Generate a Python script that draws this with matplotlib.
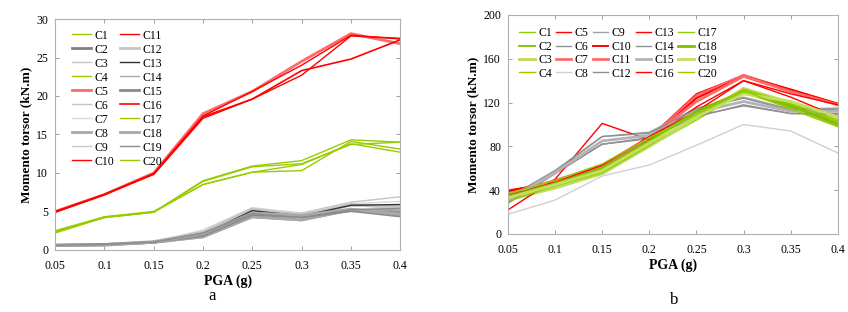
import numpy as np
import matplotlib
matplotlib.use('Agg')
import matplotlib.pyplot as plt

plt.rcParams['font.family'] = ['Liberation Serif', 'DejaVu Serif']

pga = [0.05, 0.1, 0.15, 0.2, 0.25, 0.3, 0.35, 0.4]
x_ticks = ['0.05', '0.1', '0.15', '0.2', '0.25', '0.3', '0.35', '0.4']

GREEN = '#99cc00'
RED = '#ff0000'
LRED = '#ff6a6a'

# ---- panel a ----
a_names = ['C%d' % i for i in range(1, 21)]
a_vals = {
    'C1': [2.5, 4.3, 4.9, 9.0, 10.9, 11.6, 14.3, 14.0],
    'C2': [0.6, 0.7, 1.0, 2.0, 5.2, 4.4, 5.1, 5.0],
    'C3': [0.5, 0.6, 1.0, 2.4, 5.4, 4.8, 6.2, 6.9],
    'C4': [2.4, 4.2, 4.9, 8.9, 10.8, 11.2, 13.7, 14.0],
    'C5': [5.0, 7.2, 10.0, 17.7, 20.6, 24.5, 28.1, 26.8],
    'C6': [0.6, 0.6, 1.1, 1.8, 4.6, 4.1, 5.8, 5.6],
    'C7': [0.5, 0.6, 1.0, 2.6, 5.5, 4.7, 6.0, 6.3],
    'C8': [0.6, 0.7, 1.0, 1.7, 4.3, 3.9, 5.2, 5.2],
    'C9': [0.5, 0.6, 0.9, 2.2, 5.0, 4.6, 5.7, 5.8],
    'C10': [4.9, 7.2, 9.9, 17.4, 20.6, 24.0, 27.9, 27.4],
    'C11': [5.0, 7.2, 9.8, 17.1, 19.6, 22.7, 27.8, 27.5],
    'C12': [0.6, 0.7, 1.1, 2.3, 5.3, 4.5, 5.9, 5.4],
    'C13': [0.6, 0.7, 1.0, 2.0, 5.1, 4.4, 5.8, 5.9],
    'C14': [0.5, 0.6, 0.9, 1.6, 4.2, 3.8, 5.1, 5.1],
    'C15': [0.6, 0.7, 1.0, 1.9, 4.6, 4.3, 5.1, 4.4],
    'C16': [4.9, 7.2, 9.9, 17.3, 19.6, 23.3, 24.8, 27.3],
    'C17': [2.2, 4.2, 4.9, 8.5, 10.1, 10.3, 14.1, 13.1],
    'C18': [0.6, 0.6, 1.0, 2.1, 4.8, 4.5, 5.3, 4.6],
    'C19': [0.6, 0.7, 1.0, 2.2, 4.7, 4.2, 5.2, 5.4],
    'C20': [2.3, 4.3, 5.0, 8.5, 10.1, 11.1, 13.8, 12.7],
}
a_style = {
    'C1': (GREEN, 1.0), 'C2': ('#808080', 2.0), 'C3': ('#c4c4c4', 1.0),
    'C4': (GREEN, 1.0), 'C5': (LRED, 2.0), 'C6': ('#c4c4c4', 1.0),
    'C7': ('#d8d8d8', 1.0), 'C8': ('#a8a8a8', 2.0), 'C9': ('#c8c8c8', 1.0),
    'C10': (RED, 1.0), 'C11': (RED, 1.0), 'C12': ('#c4c4c4', 2.0),
    'C13': ('#303030', 1.0), 'C14': ('#a8a8a8', 1.0), 'C15': ('#8a8a8a', 2.0),
    'C16': (RED, 1.2), 'C17': (GREEN, 1.0), 'C18': ('#a8a8a8', 2.0),
    'C19': ('#8c8c8c', 1.0), 'C20': (GREEN, 1.0),
}

# ---- panel b ----
b_vals = {
    'C1': [32, 43, 55, 80, 104, 130, 118, 103],
    'C2': [35, 48, 63, 87, 111, 131, 116, 99],
    'C3': [31, 42, 55, 80, 106, 133, 120, 106],
    'C4': [36, 47, 62, 86, 110, 129, 115, 100],
    'C5': [40, 47, 62, 88, 128, 145, 132, 119],
    'C6': [28, 55, 82, 88, 107, 118, 110, 109],
    'C7': [37, 48, 61, 87, 126, 145, 131, 118],
    'C8': [18, 31, 53, 63, 81, 100, 94, 74],
    'C9': [30, 57, 89, 93, 115, 125, 114, 115],
    'C10': [39, 48, 60, 86, 124, 144, 132, 119],
    'C11': [36, 49, 62, 88, 121, 144, 130, 118],
    'C12': [29, 56, 82, 87, 108, 117, 110, 110],
    'C13': [22, 50, 101, 86, 116, 140, 125, 107],
    'C14': [33, 58, 89, 92, 114, 124, 113, 114],
    'C15': [31, 56, 85, 90, 111, 121, 112, 112],
    'C16': [35, 47, 63, 89, 112, 140, 128, 118],
    'C17': [30, 44, 56, 81, 108, 132, 119, 104],
    'C18': [34, 46, 60, 85, 112, 130, 117, 101],
    'C19': [33, 45, 58, 83, 107, 128, 121, 107],
    'C20': [37, 49, 64, 88, 109, 131, 114, 98],
}
b_style = {
    'C1': (GREEN, 1.0), 'C2': ('#80c000', 1.3), 'C3': ('#bcdc5a', 2.0),
    'C4': (GREEN, 1.0), 'C5': (RED, 1.0), 'C6': ('#909090', 1.0),
    'C7': (LRED, 2.0), 'C8': ('#d0d0d0', 1.0), 'C9': ('#a0a0a0', 1.0),
    'C10': (RED, 1.4), 'C11': (LRED, 2.0), 'C12': ('#909090', 1.0),
    'C13': (RED, 1.0), 'C14': ('#909090', 1.0), 'C15': ('#b4b4b4', 2.0),
    'C16': (RED, 1.0), 'C17': (GREEN, 1.0), 'C18': ('#80c000', 2.0),
    'C19': ('#c0e060', 2.0), 'C20': (GREEN, 1.0),
}


def style_axes(ax, ymax, ystep):
    ax.set_xlim(0.05, 0.4)
    ax.set_ylim(0, ymax)
    ax.set_xticks(pga)
    ax.set_xticklabels(x_ticks)
    ax.set_yticks(np.arange(0, ymax + 1, ystep))
    ax.tick_params(direction='in', length=3, width=0.6, color='#909090',
                   labelsize=8.5, top=True, right=True)
    ax.tick_params(axis='x', pad=7)
    ax.tick_params(axis='y', pad=5)
    for s in ax.spines.values():
        s.set_color('#b0b0b0')
        s.set_linewidth(0.8)
    ax.set_xlabel('PGA (g)', fontsize=10, fontweight='bold', labelpad=2)
    ax.set_ylabel('Momento torsor (kN.m)', fontsize=9.5, fontweight='bold', labelpad=3)


fig = plt.figure(figsize=(8.48, 3.12), dpi=100)

ax1 = fig.add_axes([0.065, 0.199, 0.407, 0.740])
for n in a_names:
    c, lw = a_style[n]
    ax1.plot(pga, a_vals[n], color=c, lw=lw, label=n)
style_axes(ax1, 30, 5)
ax1.legend(ncol=2, loc='upper left', bbox_to_anchor=(0.035, 0.975), frameon=False,
           fontsize=8.5, handlelength=1.6, handletextpad=0.3, columnspacing=0.5,
           labelspacing=0.17, borderaxespad=0)

ax2 = fig.add_axes([0.599, 0.25, 0.389, 0.702])
for n in a_names:
    c, lw = b_style[n]
    ax2.plot(pga, b_vals[n], color=c, lw=lw, label=n)
style_axes(ax2, 200, 40)
ax2.legend(ncol=5, loc='upper left', bbox_to_anchor=(0.02, 0.965), frameon=False,
           fontsize=8.5, handlelength=1.3, handletextpad=0.3, columnspacing=0.35,
           labelspacing=0.12, borderaxespad=0)

fig.text(0.25, 0.052, 'a', fontsize=12, ha='center', va='center')
fig.text(0.795, 0.038, 'b', fontsize=12, ha='center', va='center')

fig.savefig('out.png', dpi=100)
